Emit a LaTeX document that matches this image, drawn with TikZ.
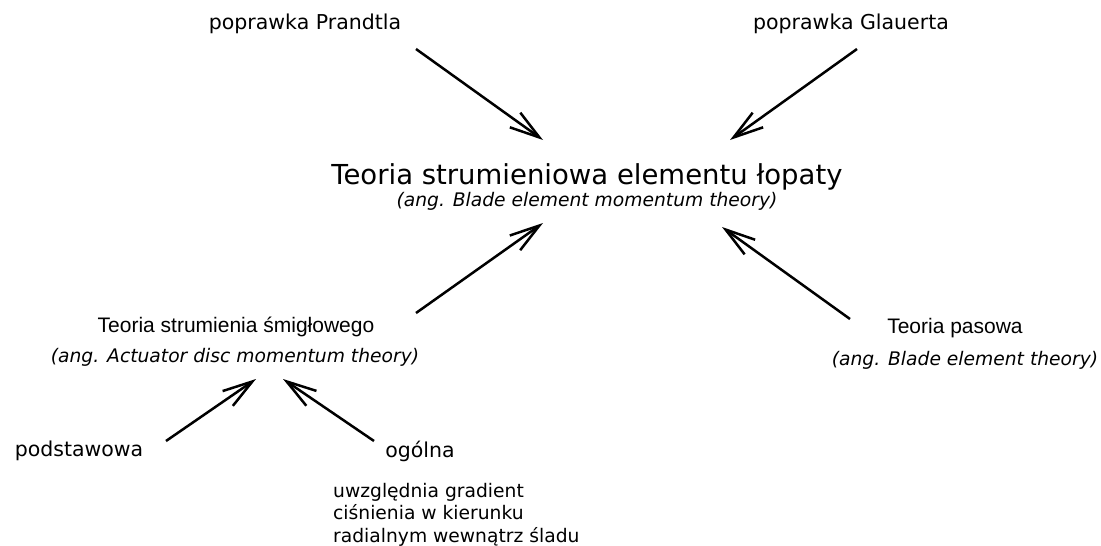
\documentclass[tikz,border=0pt]{standalone}
\usepackage{fontspec}
\setmainfont{DejaVu Sans}
\newfontfamily\arialfont{Liberation Sans}
\usetikzlibrary{arrows.meta}

\tikzset{
	lbl/.style={inner sep=0pt, font=\fontsize{20.5}{24}\selectfont},
	lblarial/.style={inner sep=0pt, font=\arialfont\fontsize{21}{25}\selectfont},
	lblang/.style={inner sep=0pt, font=\itshape\fontsize{18.7}{22}\selectfont},
	lblmain/.style={inner sep=0pt, font=\fontsize{27.5}{33}\selectfont},
	lblnote/.style={inner sep=0pt, align=left, anchor=north west, font=\fontsize{18.7}{22.5}\selectfont},
	arr/.style={line width=2.5pt, -{Straight Barb[length=30pt, width=18pt]}}
}

\begin{document}
\begin{tikzpicture}[x=1pt, y=-1pt]
	\useasboundingbox (0, 0) rectangle (1101, 546);
	% Labels:
	\node[lbl](prandtl) at (305, 24){poprawka Prandtla};
	\node[lbl](glauert) at (851, 24){poprawka Glauerta};
	\node[lblmain](bemt) at (587, 177){Teoria strumieniowa elementu łopaty};
	\node[lblang](bemtang) at (587, 201){(ang. Blade element momentum theory)};
	\node[lblarial](adm) at (236, 327){Teoria strumienia śmigłowego};
	\node[lblang](admang) at (235, 357){(ang. Actuator disc momentum theory)};
	\node[lblarial](bet) at (955, 328){Teoria pasowa};
	\node[lblang](betang) at (965, 360){(ang. Blade element theory)};
	\node[lbl](basic) at (79, 451){podstawowa};
	\node[lbl](general) at (420, 451){ogólna};
	\node[lblnote](gradnote) at (333, 483){uwzględnia gradient\\ciśnienia w kierunku\\radialnym wewnątrz śladu};
	% Arrows:
	\draw[arr] ([shift={(111, 25)}]prandtl.center) -- ([shift={(-44, -37)}]bemt.center);
	\draw[arr] ([shift={(6, 25)}]glauert.center) -- ([shift={(143, -37)}]bemt.center);
	\draw[arr] ([shift={(180, -14)}]adm.center) -- ([shift={(-44, 22)}]bemtang.center);
	\draw[arr] ([shift={(-105, -9)}]bet.center) -- ([shift={(135, 26)}]bemtang.center);
	\draw[arr] ([shift={(87, -10)}]basic.center) -- ([shift={(21, 22)}]admang.center);
	\draw[arr] ([shift={(-46, -10)}]general.center) -- ([shift={(48, 22)}]admang.center);
\end{tikzpicture}
\end{document}
